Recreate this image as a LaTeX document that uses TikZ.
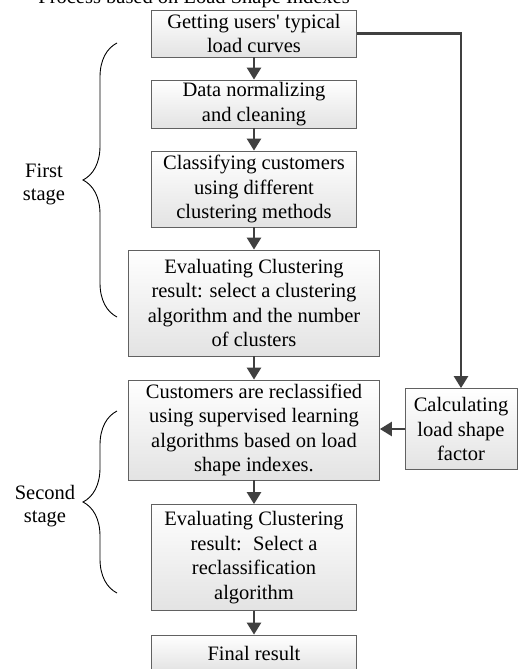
\documentclass[tikz,border=0pt]{standalone}
\usepackage{fontspec}
\setmainfont{Liberation Serif}
\usetikzlibrary{arrows.meta,decorations.pathreplacing}

\tikzset{
  txt/.style={font=\fontsize{20.5}{24.5}\selectfont},
  box/.style={txt, draw=black!62, line width=0.8pt, top color=white,
    bottom color=black!11, align=center, inner sep=0pt},
  flow/.style={draw=black!75, line width=2.5pt,
    -{Triangle[length=12pt,width=14pt]}},
  stagebrace/.style={draw=black, line width=0.9pt, decorate,
    decoration={brace, amplitude=34pt}},
  stagelabel/.style={txt, align=center, font=\fontsize{20.5}{23}\selectfont},
}

\begin{document}
\begin{tikzpicture}[x=1pt, y=-1pt]
  \clip (0,0) rectangle (518,669);
  \fill[white] (0,0) rectangle (518,669);

  % heading, running off the top edge
  \node[txt, anchor=base east, inner sep=0pt] (heading) at (350,4)
    {Process based on Load Shape Indexes};

  % main flow
  \node[box, minimum width=205, minimum height=47] (b1) at (254,33.5)
    {Getting users\textquotesingle\ typical\\load curves};
  \node[box, minimum width=205, minimum height=48] (b2) at (254,104)
    {Data normalizing\\and cleaning};
  \node[box, minimum width=205, minimum height=76] (b3) at (254,189)
    {Classifying customers\\using different\\clustering methods};
  \node[box, minimum width=251, minimum height=106] (b4) at (254,303)
    {Evaluating Clustering\\result: select a clustering\\algorithm and the number\\of clusters};
  \node[box, minimum width=251, minimum height=100] (b5) at (254,430)
    {Customers are reclassified\\using supervised learning\\algorithms based on load\\shape indexes.};
  \node[box, minimum width=112, minimum height=81] (b6) at (461,429)
    {Calculating\\load shape\\factor};
  \node[box, minimum width=205, minimum height=106] (b7) at (254,557.5)
    {Evaluating Clustering\\result:\hspace{0.55em}Select a\\reclassification\\algorithm};
  \node[box, minimum width=205, minimum height=36] (b8) at (254,653)
    {Final result};

  % connectors
  \draw[flow] (b1) -- (b2);
  \draw[flow] (b2) -- (b3);
  \draw[flow] (b3) -- (b4);
  \draw[flow] (b4) -- (b5);
  \draw[flow] (b5) -- (b7);
  \draw[flow] (b7) -- (b8);
  \draw[flow] (b1.east) -| (b6.north);
  \draw[flow] (b6.west) -- (b6.west -| b5.east);

  % stage braces
  \coordinate (s1bot) at (117,317);
  \coordinate (s1top) at (117,43);
  \coordinate (s2bot) at (117,593);
  \coordinate (s2top) at (117,411);
  \draw[stagebrace] (s1bot) -- (s1top);
  \draw[stagebrace] (s2bot) -- (s2top);
  \node[stagelabel] (l1) at (44,184) {First\\stage};
  \node[stagelabel] (l2) at (45,506) {Second\\stage};
\end{tikzpicture}
\end{document}
